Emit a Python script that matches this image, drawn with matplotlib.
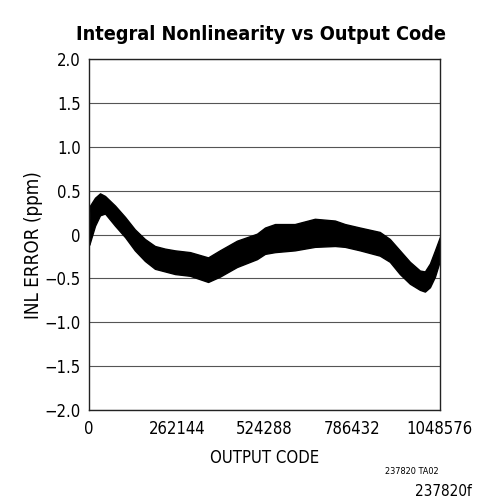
import matplotlib
matplotlib.use("Agg")
import matplotlib.pyplot as plt

plt.rcParams['font.family'] = ['DejaVu Sans']
plt.rcParams['font.stretch'] = 'condensed'

# INL band: output code vs upper / lower edge (ppm)
codes = [0, 3000, 18000, 33000, 48000, 78000, 108000, 137000, 167000, 197000,
         227000, 257000, 302000, 356000, 391000, 442000, 502000, 526000,
         556000, 615000, 675000, 735000, 765000, 810000, 869000, 899000,
         929000, 959000, 989000, 1004000, 1019000, 1034000, 1048576]
inl_upper = [0.0, 0.33, 0.42, 0.47, 0.44, 0.33, 0.20, 0.06, -0.05, -0.13,
             -0.16, -0.18, -0.20, -0.26, -0.18, -0.07, 0.01, 0.08,
             0.12, 0.12, 0.18, 0.16, 0.12, 0.08, 0.03, -0.05,
             -0.18, -0.31, -0.41, -0.42, -0.33, -0.18, -0.03]
inl_lower = [-0.12, -0.09, 0.10, 0.22, 0.24, 0.10, -0.03, -0.18, -0.30, -0.39,
             -0.42, -0.45, -0.47, -0.54, -0.48, -0.37, -0.28, -0.22,
             -0.20, -0.18, -0.14, -0.13, -0.14, -0.18, -0.24, -0.31,
             -0.45, -0.56, -0.63, -0.65, -0.60, -0.48, -0.30]

yticks = [-2.0, -1.5, -1.0, -0.5, 0, 0.5, 1.0, 1.5, 2.0]
ylabels = ['\u22122.0', '\u22121.5', '\u22121.0', '\u22120.5', '0', '0.5', '1.0', '1.5', '2.0']
xticks = [0, 262144, 524288, 786432, 1048576]

fig = plt.figure(figsize=(4.9, 4.97), dpi=100)
ax = fig.add_axes([0.1816, 0.175, 0.716, 0.706])

ax.fill_between(codes, inl_lower, inl_upper, color='black', linewidth=1.0, edgecolor='black')

ax.set_xlim(0, 1048576)
ax.set_ylim(-2.0, 2.0)
ax.set_yticks(yticks)
ax.set_yticklabels(ylabels)
ax.set_xticks(xticks)
ax.set_xticklabels([str(t) for t in xticks])
ax.tick_params(axis='x', length=0, labelsize=12, pad=7)
ax.tick_params(axis='y', length=0, labelsize=12, pad=6)
ax.grid(axis='y', color='#555555', linewidth=0.8)
ax.set_axisbelow(True)
for s in ax.spines.values():
    s.set_linewidth(1.0)
    s.set_color('#222222')

ax.set_xlabel('OUTPUT CODE', fontsize=12, labelpad=8)
ax.set_ylabel('INL ERROR (ppm)', fontsize=13.5, labelpad=1)
ax.yaxis.label.set_y(0.47)
fig.text(0.533, 0.9195, 'Integral Nonlinearity vs Output Code', fontsize=14.2,
         fontweight='bold', ha='center', va='baseline')

fig.text(0.841, 0.051, '237820 TA02', fontsize=6.6, ha='center', va='center')
fig.text(0.963, 0.012, '237820f', fontsize=11, ha='right', va='center')

fig.savefig('out.png', dpi=100)
